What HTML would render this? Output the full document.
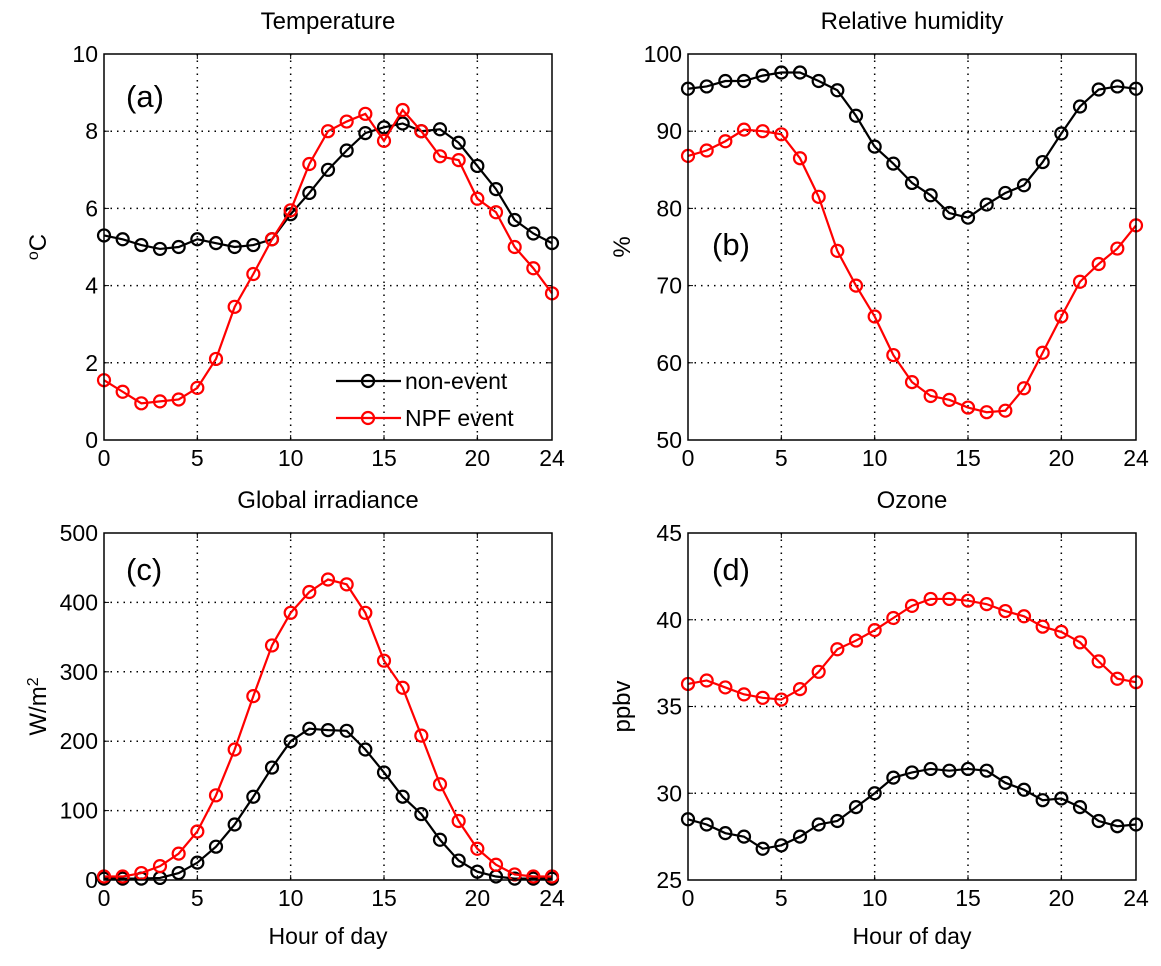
<!DOCTYPE html>
<html><head><meta charset="utf-8"><style>
body{margin:0;background:#fff;}
svg{display:block;font-family:"Liberation Sans",Arial,sans-serif;}
</style></head><body>
<svg id="fig" width="1161" height="966" viewBox="0 0 1161 966"></svg>
<script>
const hours=[...Array(25).keys()];
const xTicks=[0,5,10,15,20,24];
const tempNon=[5.3,5.2,5.05,4.95,5.0,5.2,5.1,5.0,5.05,5.2,5.85,6.4,7.0,7.5,7.95,8.1,8.2,8.0,8.05,7.7,7.1,6.5,5.7,5.35,5.1];
const tempNpf=[1.55,1.25,0.95,1.0,1.05,1.35,2.1,3.45,4.3,5.2,5.95,7.15,8.0,8.25,8.45,7.75,8.55,8.0,7.35,7.25,6.25,5.9,5.0,4.45,3.8];
const rhNon=[95.5,95.8,96.5,96.5,97.2,97.6,97.6,96.5,95.3,92,88,85.8,83.3,81.7,79.4,78.8,80.5,82,83,86,89.7,93.2,95.4,95.8,95.5];
const rhNpf=[86.8,87.5,88.7,90.2,90,89.6,86.5,81.5,74.5,70,66,61,57.5,55.7,55.2,54.2,53.6,53.8,56.7,61.3,66,70.5,72.8,74.8,77.8];
const irrNon=[2,2,2,3,10,25,48,80,120,162,200,218,216,215,188,155,120,95,58,28,12,5,2,2,2];
const irrNpf=[5,5,10,20,38,70,122,188,265,338,385,415,433,426,385,316,277,208,138,85,45,22,8,5,5];
const o3Non=[28.5,28.2,27.7,27.5,26.8,27,27.5,28.2,28.4,29.2,30,30.9,31.2,31.4,31.3,31.4,31.3,30.6,30.2,29.6,29.7,29.2,28.4,28.1,28.2];
const o3Npf=[36.3,36.5,36.1,35.7,35.5,35.4,36.0,37.0,38.3,38.8,39.4,40.1,40.8,41.2,41.2,41.1,40.9,40.5,40.2,39.6,39.3,38.7,37.6,36.6,36.4];
const tempTicks=[0,2,4,6,8,10], rhTicks=[50,60,70,80,90,100], irrTicks=[0,100,200,300,400,500], o3Ticks=[25,30,35,40,45];

const NS="http://www.w3.org/2000/svg";
const svg=document.getElementById('fig');
function mk(tag,attrs,parent){const e=document.createElementNS(NS,tag);for(const k in attrs)e.setAttribute(k,attrs[k]);(parent||svg).appendChild(e);return e;}

function panel(id,box,yMin,yMax,yT,title,ylabel,letter,series,xlabel){
  const g=mk('g',{});
  
  
  const [L,R,T,B]=box;
  const xs=v=>L+(v/24)*(R-L);
  const ys=v=>B-(v-yMin)/(yMax-yMin)*(B-T);
  mk('rect',{x:L,y:T,width:R-L,height:B-T,fill:'#fff'},g);
  xTicks.forEach(t=>{
    if(t>0&&t<24){const l=mk('line',{x1:xs(t),x2:xs(t),y1:T,y2:B,stroke:'#000','stroke-width':1.5,'stroke-dasharray':'1.5 5'},g);
    }
    mk('line',{x1:xs(t),x2:xs(t),y1:B,y2:B-5,stroke:'#000'},g);mk('line',{x1:xs(t),x2:xs(t),y1:T,y2:T+5,stroke:'#000'},g);
    const tx=mk('text',{x:xs(t),y:B+26,'text-anchor':'middle','font-size':23},g);tx.textContent=t;
    
  });
  yT.forEach(t=>{
    if(t>yMin&&t<yMax){const l=mk('line',{x1:L,x2:R,y1:ys(t),y2:ys(t),stroke:'#000','stroke-width':1.5,'stroke-dasharray':'1.5 5'},g);
    }
    mk('line',{x1:L,x2:L+5,y1:ys(t),y2:ys(t),stroke:'#000'},g);mk('line',{x1:R,x2:R-5,y1:ys(t),y2:ys(t),stroke:'#000'},g);
    const tx=mk('text',{x:L-6,y:ys(t)+8,'text-anchor':'end','font-size':23},g);tx.textContent=t;
    
  });
  series.forEach(s=>{
    const p=mk('polyline',{points:hours.map(h=>xs(h)+','+ys(s.v[h])).join(' '),fill:'none',stroke:s.c,'stroke-width':2.2},g);
    
    hours.forEach(h=>{const c=mk('circle',{cx:xs(h),cy:ys(s.v[h]),r:6,fill:'none',stroke:s.c,'stroke-width':2.2},g);
      });
  });
  const fr=mk('rect',{x:L,y:T,width:R-L,height:B-T,fill:'none',stroke:'#000','stroke-width':1.5},g);
  
  const tt=mk('text',{x:(L+R)/2,y:T-25,'text-anchor':'middle','font-size':24},g);tt.textContent=title;
  
  const yl=mk('text',{x:0,y:0,'text-anchor':'middle','font-size':24,transform:`translate(${L-58},${(T+B)/2}) rotate(-90)`},g);yl.innerHTML=ylabel;
  
  const lt=mk('text',{x:letter[0],y:letter[1],'font-size':31},g);lt.textContent=letter[2];
  
  if(xlabel){const xl=mk('text',{x:(L+R)/2,y:B+64,'text-anchor':'middle','font-size':23},g);xl.textContent=xlabel;
    }
  return g;
}
panel('a',[104,552,54,440],0,10,tempTicks,'Temperature','<tspan dy="-8" font-size="16">o</tspan><tspan dy="8">C</tspan>',[126,107,'(a)'],
  [{v:tempNon,c:'#000',n:'non-event'},{v:tempNpf,c:'#f00',n:'npf-event'}]);
panel('b',[688,1136,54,440],50,100,rhTicks,'Relative humidity','%',[712,255,'(b)'],
  [{v:rhNon,c:'#000',n:'non-event'},{v:rhNpf,c:'#f00',n:'npf-event'}]);
panel('c',[104,552,533,880],0,500,irrTicks,'Global irradiance','W/m<tspan dy="-8" font-size="16">2</tspan>',[126,580,'(c)'],
  [{v:irrNon,c:'#000',n:'non-event'},{v:irrNpf,c:'#f00',n:'npf-event'}],'Hour of day');
panel('d',[688,1136,533,880],25,45,o3Ticks,'Ozone','ppbv',[712,580,'(d)'],
  [{v:o3Non,c:'#000',n:'non-event'},{v:o3Npf,c:'#f00',n:'npf-event'}],'Hour of day');

const lg=mk('g',{});


[['non-event','#000',381],['NPF event','#f00',418]].forEach(([t,c,y])=>{
  const e=mk('g',{},lg);
  
  
  mk('line',{x1:336,x2:401,y1:y,y2:y,stroke:c,'stroke-width':2.2},e);
  mk('circle',{cx:368,cy:y,r:6,fill:'none',stroke:c,'stroke-width':2.2},e);
  const tx=mk('text',{x:405,y:y+8,'font-size':23},e);tx.textContent=t;
});
</script>
</body></html>
